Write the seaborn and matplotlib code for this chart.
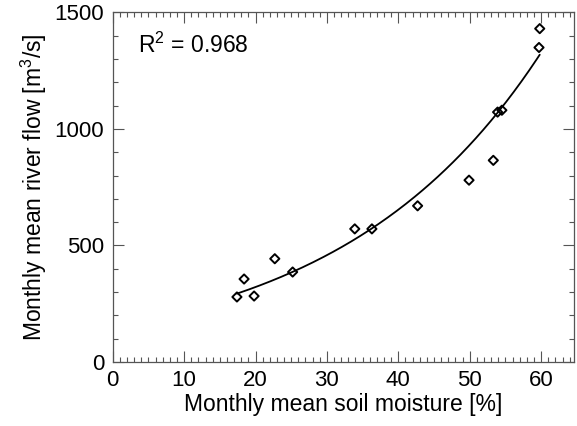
import numpy as np
import pandas as pd
import matplotlib
matplotlib.use("Agg")
import matplotlib.pyplot as plt
from matplotlib.ticker import MultipleLocator
import seaborn as sns

# Data
soil_moisture = [17.4, 18.4, 19.8, 22.7, 25.2, 33.9, 36.3, 42.7, 49.9, 53.3, 53.9, 54.5, 59.7, 59.8]
river_flow = [279, 356, 283, 443, 386, 571, 571, 670, 780, 865, 1072, 1080, 1349, 1430]
r2_text = "R$^2$ = 0.968"
x_label = "Monthly mean soil moisture [%]"
y_label = "Monthly mean river flow [m$^3$/s]"

sns.set_theme(style="ticks")
plt.rcParams['font.family'] = ['Liberation Sans', 'DejaVu Sans']
plt.rcParams['mathtext.fontset'] = 'custom'
plt.rcParams['mathtext.rm'] = 'Liberation Sans'
plt.rcParams['text.color'] = 'black'
plt.rcParams['axes.labelcolor'] = 'black'

df = pd.DataFrame({"x": soil_moisture, "y": river_flow})

# exponential fit derived from the data (weighted to approximate least squares in y)
b, ln_a = np.polyfit(df["x"], np.log(df["y"]), 1, w=np.asarray(df["y"], float))
xf = np.linspace(df["x"].min(), df["x"].max(), 200)
fit = pd.DataFrame({"x": xf, "y": np.exp(ln_a + b * xf)})

fig = plt.figure(figsize=(5.77, 4.26), dpi=100)
ax = fig.add_axes([0.1953, 0.1502, 0.7995, 0.8209])

sns.lineplot(data=fit, x="x", y="y", ax=ax, color="black", linewidth=1.3)
sns.scatterplot(data=df, x="x", y="y", ax=ax, marker="D", s=22,
                facecolor="none", edgecolor="black", linewidth=1.4)

ax.set_xlim(0, 64.6)
ax.set_ylim(0, 1500)
ax.xaxis.set_major_locator(MultipleLocator(10))
ax.xaxis.set_minor_locator(MultipleLocator(1))
ax.yaxis.set_major_locator(MultipleLocator(500))
ax.yaxis.set_minor_locator(MultipleLocator(100))
ax.tick_params(which="both", direction="in", top=True, right=True,
               color="#555555", labelsize=16, labelcolor="black", width=0.8)
ax.tick_params(which="major", length=8, pad=6)
ax.tick_params(which="minor", length=3.5)
for s in ax.spines.values():
    s.set_color("#555555")
    s.set_linewidth(0.9)

ax.set_xlabel(x_label, fontsize=16.5, labelpad=1)
ax.set_ylabel(y_label, fontsize=16.5, labelpad=4)
ax.text(0.055, 0.905, r2_text, transform=ax.transAxes, fontsize=16.5,
        va="center", ha="left", color="black")

fig.savefig("out.png", dpi=100)
